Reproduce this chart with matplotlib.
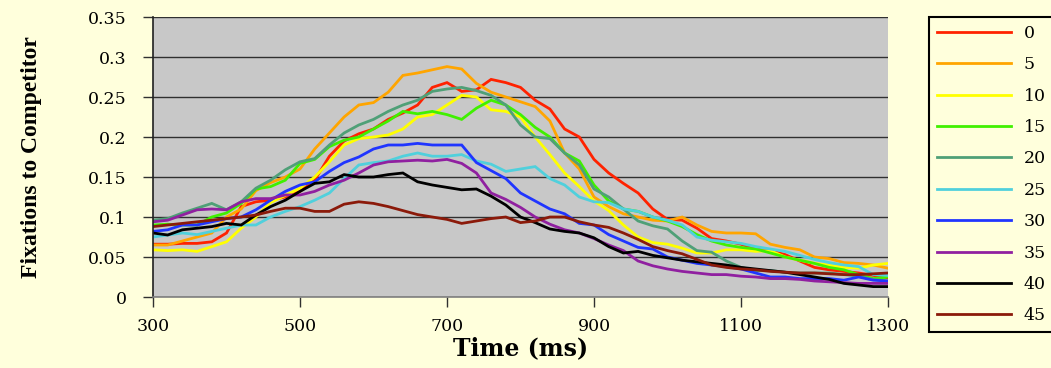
import numpy as np
import matplotlib
matplotlib.use('Agg')
import matplotlib.pyplot as plt

time_ms = list(range(300, 1301, 20))
labels = ['0', '5', '10', '15', '20', '25', '30', '35', '40', '45']

s0 = [.066, .066, .067, .067, .069, .080, .113, .119, .121, .125, .132, .146, .176, .195, .204, .210, .222, .230, .240, .262,
      .268, .257, .259, .272, .268, .262, .246, .235, .210, .200, .172, .155, .142, .130, .110, .097, .096, .086, .073, .070,
      .066, .060, .058, .053, .045, .037, .034, .032, .030, .027, .024]
s5 = [.065, .065, .070, .075, .080, .100, .110, .133, .143, .150, .160, .185, .205, .225, .240, .243, .256, .277, .280, .284,
      .288, .285, .267, .256, .250, .244, .238, .220, .180, .160, .125, .113, .104, .100, .096, .095, .100, .090, .082, .080,
      .080, .079, .066, .062, .059, .050, .048, .043, .042, .040, .036]
s10 = [.059, .058, .059, .057, .063, .069, .086, .100, .118, .127, .136, .150, .169, .190, .198, .200, .2025, .210, .225, .228,
       .240, .252, .250, .234, .232, .225, .200, .178, .155, .138, .120, .108, .090, .075, .068, .066, .061, .055, .055, .059,
       .059, .057, .058, .050, .046, .042, .040, .037, .036, .040, .042]
s15 = [.090, .091, .090, .090, .100, .105, .117, .135, .138, .146, .167, .172, .188, .196, .200, .210, .220, .232, .229, .232,
       .228, .222, .236, .246, .240, .228, .212, .200, .180, .170, .140, .120, .110, .107, .100, .095, .088, .078, .070, .065,
       .062, .060, .055, .050, .046, .042, .037, .034, .028, .023, .025]
s20 = [.096, .098, .105, .111, .117, .109, .119, .136, .146, .159, .169, .173, .190, .205, .215, .222, .232, .240, .246, .257,
       .260, .262, .258, .252, .240, .215, .200, .198, .180, .165, .135, .125, .110, .095, .089, .085, .070, .058, .056, .045,
       .037, .033, .033, .031, .030, .030, .030, .028, .026, .022, .020]
s25 = [.075, .0775, .080, .078, .082, .086, .090, .090, .100, .107, .113, .121, .130, .148, .165, .168, .170, .176, .180, .176,
       .176, .178, .170, .166, .157, .160, .163, .148, .140, .125, .119, .118, .110, .107, .100, .096, .090, .075, .071, .069,
       .067, .063, .060, .057, .052, .047, .043, .040, .038, .028, .027]
s30 = [.082, .084, .090, .090, .094, .098, .100, .109, .121, .132, .140, .144, .157, .168, .175, .185, .190, .190, .192, .190,
       .190, .190, .168, .158, .148, .130, .120, .110, .104, .092, .090, .078, .070, .062, .060, .050, .046, .042, .040, .038,
       .035, .030, .025, .025, .023, .023, .023, .021, .025, .021, .020]
s35 = [.094, .096, .1025, .109, .110, .109, .119, .123, .123, .1275, .1275, .132, .140, .146, .155, .165, .169, .170, .171, .170,
       .172, .167, .155, .130, .122, .112, .100, .091, .084, .080, .073, .065, .058, .045, .039, .035, .032, .030, .028, .028,
       .026, .025, .023, .023, .022, .020, .019, .018, .017, .017, .017]
s40 = [.080, .0775, .084, .086, .088, .092, .090, .1025, .113, .121, .132, .142, .144, .153, .150, .150, .153, .155, .144, .140,
       .137, .134, .135, .126, .115, .100, .093, .085, .082, .080, .074, .063, .055, .057, .052, .049, .046, .044, .042, .040,
       .037, .035, .033, .031, .028, .025, .022, .017, .015, .013, .013]
s45 = [.088, .090, .092, .094, .096, .098, .100, .1025, .107, .111, .111, .107, .107, .116, .119, .117, .113, .108, .103, .100,
       .097, .092, .095, .098, .100, .093, .095, .100, .100, .094, .090, .087, .080, .072, .063, .058, .054, .047, .040, .037,
       .035, .034, .032, .031, .030, .030, .029, .028, .028, .029, .030]

series = [s0, s5, s10, s15, s20, s25, s30, s35, s40, s45]
colors = ['#FF2200', '#FFA500', '#FFFF00', '#40F000', '#4FA077',
          '#50D0DC', '#2035FF', '#9020A0', '#000000', '#8B1A0A']

bg = '#FFFFDC'
fig = plt.figure(figsize=(10.51, 3.68), dpi=100, facecolor=bg)
W, H = 1051, 368
ax = fig.add_axes([153 / W, 71 / H, 735 / W, 280 / H])
ax.set_facecolor('#C8C8C8')

lines = []
for vals, lab, c in zip(series, labels, colors):
    ln, = ax.plot(time_ms, vals, color=c, lw=2.0, label=lab, solid_joinstyle='miter')
    lines.append(ln)

ax.set_xlim(300, 1300)
ax.set_ylim(0, 0.35)
xt = list(range(300, 1301, 200))
ax.set_xticks(xt)
ax.set_xticklabels([str(v) for v in xt])
yt = [0, 0.05, 0.1, 0.15, 0.2, 0.25, 0.3, 0.35]
ax.set_yticks(yt)
ax.set_yticklabels(['0', '0.05', '0.1', '0.15', '0.2', '0.25', '0.3', '0.35'])
ax.yaxis.grid(True, color='#303030', lw=1.0)
ax.set_axisbelow(True)
for side in ['top', 'right']:
    ax.spines[side].set_visible(False)
ax.spines['left'].set_color('#202020')
ax.spines['left'].set_linewidth(1.2)
ax.spines['bottom'].set_color('#808080')
ax.spines['bottom'].set_linewidth(1.2)
ax.tick_params(axis='both', direction='out', length=7, width=1, color='#303030',
               labelsize=12.5, pad=4)
for lbl in ax.get_xticklabels() + ax.get_yticklabels():
    lbl.set_fontfamily('DejaVu Serif')
ax.tick_params(axis='y', pad=12)
ax.tick_params(axis='x', pad=8)

ax.set_xlabel('Time (ms)', fontfamily='DejaVu Serif', fontweight='bold', fontsize=17, labelpad=1)
ax.set_ylabel('Fixations to Competitor', fontfamily='Liberation Serif', fontweight='bold',
              fontsize=17, labelpad=33)

leg = fig.legend(handles=lines, labels=labels, loc='upper left',
                 bbox_to_anchor=(929 / W, 1 - 17 / H), borderaxespad=0,
                 prop={'family': 'DejaVu Serif', 'size': 12.5},
                 handlelength=4.3, handletextpad=0.7, labelspacing=0.83,
                 borderpad=0.45, fancybox=False, framealpha=1)
leg.get_frame().set_facecolor(bg)
leg.get_frame().set_edgecolor('black')
leg.get_frame().set_linewidth(1.5)

fig.savefig('out.png', dpi=100, facecolor=bg)
